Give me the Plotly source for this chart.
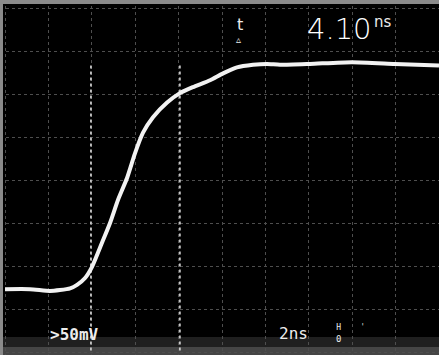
import plotly.graph_objects as go

# Time axis in ns (2 ns/div), amplitude in mV (50 mV/div)
time_ns = [0.0, 1.15, 2.07, 2.53, 3.00, 3.32, 3.69, 4.01, 4.47, 4.84, 5.21, 5.62,
           5.99, 6.36, 6.82, 7.47, 8.06, 8.66, 9.45, 10.05, 10.69, 11.43, 12.07,
           12.67, 14.05, 15.99, 17.97, 20.0]
signal_mv = [-127, -127, -129, -128, -126, -122, -114, -101, -73, -50, -23, 2,
             31, 55, 73, 90, 101, 108, 116, 124, 131, 134, 135,
             134, 135, 137, 135, 133]
cursor_ns = [3.96, 8.06]
cursor_top_mv = 133
delta_t_label = "4.10"
delta_t_unit = "ns"
volts_label = ">50mV"
time_label = "2ns"

W, H = 439, 355
# plot area spans full image; graticule from pixel x=5..439, y=8..352
x_range = [(0 - 5) / 43.4 * 2, (W - 5) / 43.4 * 2]
y_range = [(180 - H) / 43 * 50, 180 / 43 * 50]

fig = go.Figure()

# cursors
for c in cursor_ns:
    fig.add_trace(go.Scatter(x=[c, c], y=[cursor_top_mv, -200], mode="lines",
                             line=dict(color="#d8d8d8", width=1.6, dash="dot"),
                             hoverinfo="skip", showlegend=False))

fig.add_trace(go.Scatter(x=time_ns, y=signal_mv, mode="lines",
                         line=dict(color="#f2f2f2", width=4, shape="spline", smoothing=0.6),
                         showlegend=False))

def px_x(p):
    return p / W

def px_y(p):
    return 1 - p / H

shapes = [
    # top and left frame
    dict(type="rect", xref="paper", yref="paper", x0=0, x1=1, y0=px_y(4), y1=1,
         fillcolor="#8a8a8a", line=dict(width=0), layer="above"),
    dict(type="rect", xref="paper", yref="paper", x0=0, x1=px_x(3), y0=0, y1=1,
         fillcolor="#8a8a8a", line=dict(width=0), layer="above"),
    # bottom grey band
    dict(type="rect", xref="paper", yref="paper", x0=0, x1=1, y0=0, y1=px_y(337),
         fillcolor="rgba(140,140,140,0.22)", line=dict(width=0), layer="below"),
    dict(type="rect", xref="paper", yref="paper", x0=0, x1=1, y0=0, y1=px_y(347),
         fillcolor="rgba(160,160,160,0.3)", line=dict(width=0), layer="below"),
]

def ann(text, x, y, size, family="DejaVu Sans", color="#ececec", **kw):
    return dict(text=text, x=px_x(x), y=px_y(y), xref="paper", yref="paper",
                xanchor="center", yanchor="middle", showarrow=False,
                font=dict(family=family, size=size, color=color, **kw))

mono = "DejaVu Sans Mono"
annotations = [
    ann(delta_t_label, 339, 29, 29, color="#ffffff", weight=300),
    ann(delta_t_unit, 383, 22, 15),
    ann("t", 240, 24, 16),
    ann("▵", 238, 40, 10),
    ann(volts_label, 74, 334, 16, family=mono, weight="bold"),
    ann(time_label, 293, 333, 16, family=mono),
    ann("<span style='font-size:8px'>H</span><br>0", 338, 333, 9, family=mono),
    ann("'", 362, 327, 9, family=mono, color="#cccccc"),
]

fig.update_layout(
    width=W, height=H,
    margin=dict(l=0, r=0, t=0, b=0),
    paper_bgcolor="#000000", plot_bgcolor="#000000",
    shapes=shapes, annotations=annotations,
    xaxis=dict(range=x_range, tick0=0, dtick=2, showgrid=True, gridcolor="#4e4e4e",
               griddash="dot", gridwidth=1, showticklabels=False, zeroline=False,
               showline=False, ticks="", fixedrange=True),
    yaxis=dict(range=y_range, tick0=0, dtick=50, showgrid=True, gridcolor="#4e4e4e",
               griddash="dot", gridwidth=1, showticklabels=False, zeroline=False,
               showline=False, ticks="", fixedrange=True),
)

fig.write_html("out.html", config={"displayModeBar": False},
               post_script="document.body.style.margin='0px';document.body.style.overflow='hidden';")
